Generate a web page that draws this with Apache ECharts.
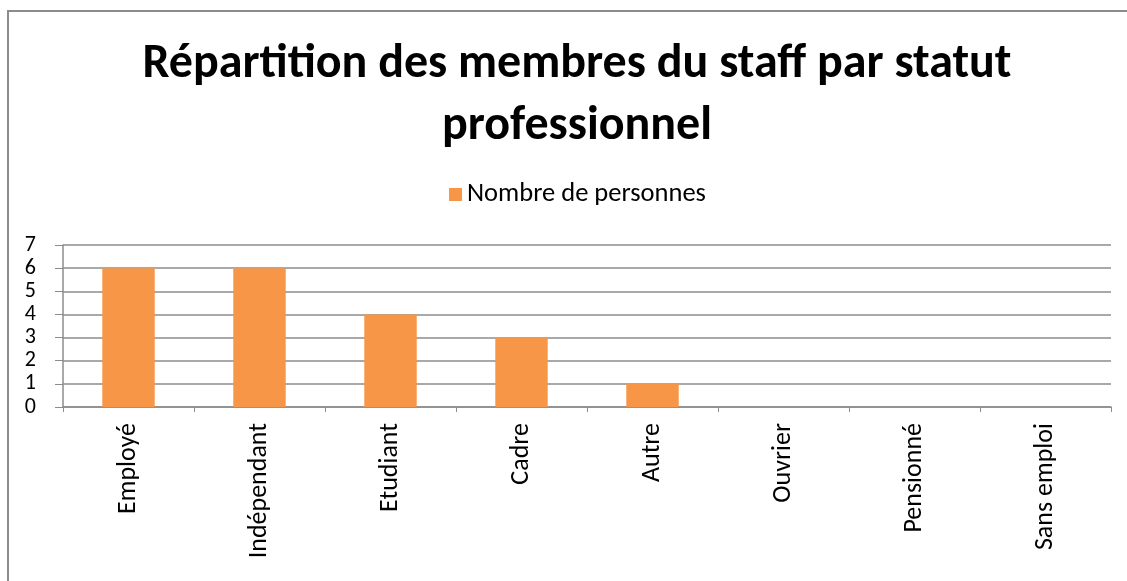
<!DOCTYPE html>
<html>
<head>
<meta charset="utf-8">
<script src="https://cdn.jsdelivr.net/npm/echarts@6/dist/echarts.min.js"></script>
<style>
  html, body { margin: 0; padding: 0; background: #fff; overflow: hidden; }
  #frame { position: absolute; left: 7px; top: 10px; width: 1140px; height: 600px; border: 2px solid #8c8c8c; }
  #main { position: absolute; left: 0; top: 0; width: 1127px; height: 581px; }
</style>
</head>
<body>
<div id="frame"></div>
<div id="main"></div>
<script>
// categories and values
var categories = ['Employé', 'Indépendant', 'Etudiant', 'Cadre', 'Autre', 'Ouvrier', 'Pensionné', 'Sans emploi'];
var personnes = [6, 6, 4, 3, 1, 0, 0, 0];
var seriesName = 'Nombre de personnes';

var font = 'Calibri, Carlito, "Open Sans", sans-serif';

var myChart = echarts.init(document.getElementById('main'));
var option = {
  animation: false,
  title: {
    text: 'Répartition des membres du staff par statut\nprofessionnel',
    left: 572,
    top: 29,
    textAlign: 'center',
    textStyle: {
      fontFamily: font,
      fontWeight: 'bold',
      fontSize: 48,
      lineHeight: 62,
      color: '#000'
    }
  },
  legend: {
    data: [seriesName],
    top: 176,
    left: 444,
    itemWidth: 13,
    itemHeight: 13,
    itemGap: 8,
    icon: 'rect',
    textStyle: { fontFamily: font, fontSize: 26.5, color: '#000' }
  },
  grid: { left: 63, right: 16, top: 245, bottom: 174 },
  xAxis: {
    type: 'category',
    data: categories,
    axisLine: { lineStyle: { color: '#8c8c8c', width: 1.5 } },
    axisTick: { show: true, length: 5, lineStyle: { color: '#8c8c8c' } },
    axisLabel: { rotate: 90, margin: 16, fontFamily: font, fontSize: 26, color: '#000' }
  },
  yAxis: {
    type: 'value',
    min: 0,
    max: 7,
    interval: 1,
    axisLine: { show: true, lineStyle: { color: '#8c8c8c', width: 1.5 } },
    axisTick: { show: true, length: 8, lineStyle: { color: '#8c8c8c' } },
    axisLabel: {
      margin: 27, fontFamily: font, fontSize: 22, lineHeight: 14, color: '#000',
      showMinLabel: true, showMaxLabel: true, hideOverlap: false
    },
    splitLine: { lineStyle: { color: '#8c8c8c', width: 1.5 } }
  },
  series: [
    {
      name: seriesName,
      type: 'bar',
      data: personnes,
      barCategoryGap: '60%',
      itemStyle: { color: '#F79646' }
    }
  ]
};
myChart.setOption(option);
</script>
</body>
</html>
